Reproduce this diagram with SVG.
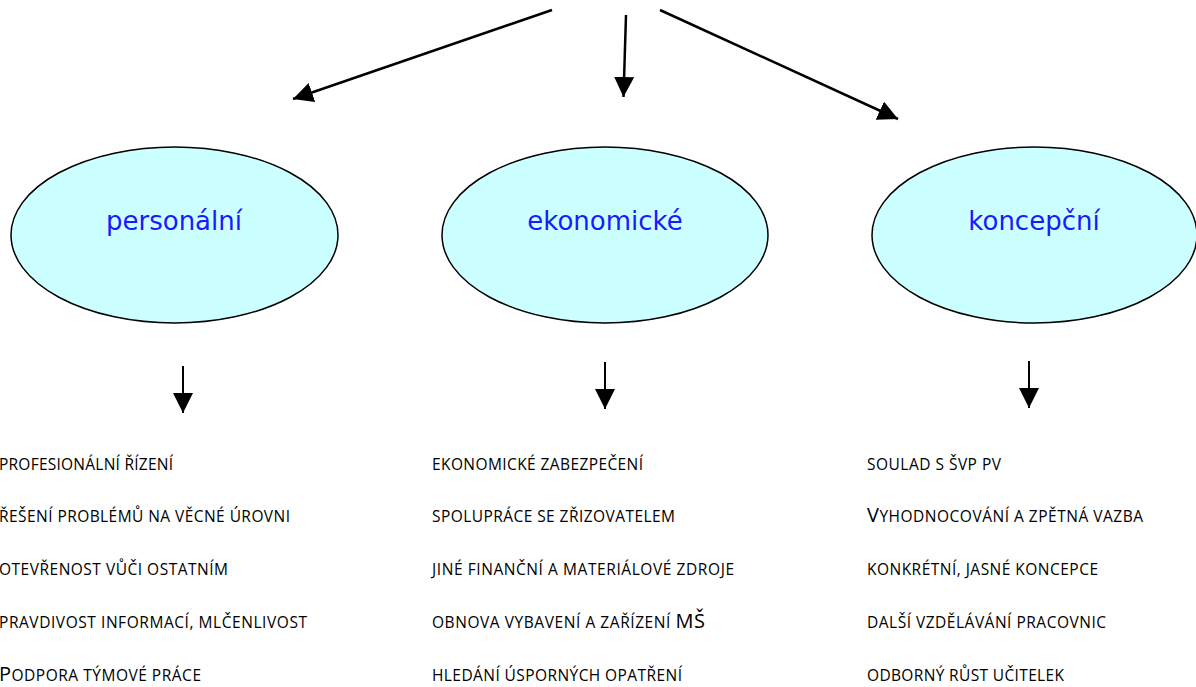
<svg xmlns="http://www.w3.org/2000/svg" width="1196" height="687" viewBox="0 0 1196 687">
<style>
.ell{fill:#ccffff;stroke:#000;stroke-width:1.5}
.lbl{font-family:"Comic Sans MS","DejaVu Sans",sans-serif;font-size:26px;fill:#1a1aff;text-anchor:middle}
.conn line{stroke:#000;stroke-width:2.5;fill:none}
.conn line.s{stroke-width:2}
.it{font-family:"Open Sans","Liberation Sans",sans-serif;font-size:15.5px;fill:#000}
.big{font-size:20px}
</style>
<defs>
<marker id="ah" markerUnits="userSpaceOnUse" markerWidth="20" markerHeight="20" viewBox="0 0 16 16" refX="16" refY="8" orient="auto">
<path d="M0,0 L16,8 L0,16 Z" fill="#000"/>
</marker>
</defs>
<g id="connectors" class="conn">
<line x1="552" y1="10" x2="293" y2="99" marker-end="url(#ah)"/>
<line x1="626" y1="15" x2="623.5" y2="97" marker-end="url(#ah)"/>
<line x1="660" y1="10" x2="898" y2="119" marker-end="url(#ah)"/>
<line class="s" x1="183" y1="366" x2="183" y2="413" marker-end="url(#ah)"/>
<line class="s" x1="605" y1="362" x2="605" y2="409" marker-end="url(#ah)"/>
<line class="s" x1="1029" y1="361" x2="1029" y2="408" marker-end="url(#ah)"/>
</g>
<g id="personalni">
<ellipse class="ell" cx="174.5" cy="235" rx="163.5" ry="88"/>
<text class="lbl" x="174" y="230">personální</text>
</g>
<g id="ekonomicke">
<ellipse class="ell" cx="605" cy="235" rx="163" ry="88"/>
<text class="lbl" x="605" y="230">ekonomické</text>
</g>
<g id="koncepcni">
<ellipse class="ell" cx="1034.5" cy="235" rx="162.5" ry="88"/>
<text class="lbl" x="1034" y="230">koncepční</text>
</g>
<g id="list-personalni" class="it">
<text x="-1" y="470" textLength="174">PROFESIONÁLNÍ ŘÍZENÍ</text>
<text x="-1" y="522" textLength="291">ŘEŠENÍ PROBLÉMŮ NA VĚCNÉ ÚROVNI</text>
<text x="-1" y="575" textLength="229">OTEVŘENOST VŮČI OSTATNÍM</text>
<text x="-1" y="628" textLength="308">PRAVDIVOST INFORMACÍ, MLČENLIVOST</text>
<text x="-1" y="681" textLength="202"><tspan class="big">P</tspan>ODPORA TÝMOVÉ PRÁCE</text>
</g>
<g id="list-ekonomicke" class="it">
<text x="432" y="470" textLength="211">EKONOMICKÉ ZABEZPEČENÍ</text>
<text x="432" y="522" textLength="243">SPOLUPRÁCE SE ZŘIZOVATELEM</text>
<text x="432" y="575" textLength="302">JINÉ FINANČNÍ A MATERIÁLOVÉ ZDROJE</text>
<text x="432" y="628" textLength="273">OBNOVA VYBAVENÍ A ZAŘÍZENÍ <tspan class="big">MŠ</tspan></text>
<text x="432" y="681" textLength="250">HLEDÁNÍ ÚSPORNÝCH OPATŘENÍ</text>
</g>
<g id="list-koncepcni" class="it">
<text x="867" y="470" textLength="134">SOULAD S ŠVP PV</text>
<text x="867" y="522" textLength="276"><tspan class="big">V</tspan>YHODNOCOVÁNÍ A ZPĚTNÁ VAZBA</text>
<text x="867" y="575" textLength="231">KONKRÉTNÍ, JASNÉ KONCEPCE</text>
<text x="867" y="628" textLength="239">DALŠÍ VZDĚLÁVÁNÍ PRACOVNIC</text>
<text x="867" y="681" textLength="197">ODBORNÝ RŮST UČITELEK</text>
</g>
</svg>
